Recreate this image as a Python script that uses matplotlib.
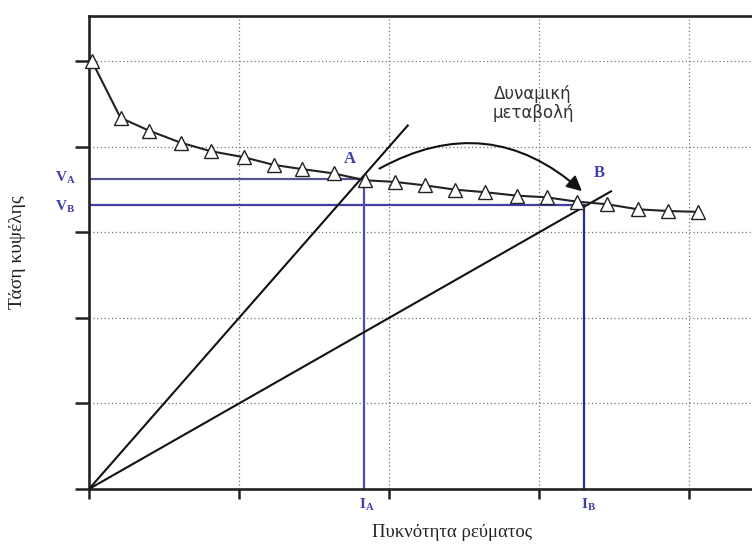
import matplotlib
matplotlib.use("Agg")
import matplotlib.pyplot as plt
from matplotlib.patches import FancyArrowPatch

plt.rcParams["mathtext.fontset"] = "custom"
plt.rcParams["mathtext.bf"] = "Liberation Serif:bold"
plt.rcParams["mathtext.rm"] = "Liberation Serif"

# Data
curve_x = [0.02, 0.21, 0.40, 0.61, 0.81, 1.03, 1.23, 1.42, 1.63, 1.84, 2.04,
           2.24, 2.44, 2.64, 2.85, 3.05, 3.25, 3.45, 3.66, 3.86, 4.06]
curve_y = [5.00, 4.34, 4.19, 4.05, 3.95, 3.88, 3.79, 3.74, 3.69, 3.61, 3.59,
           3.55, 3.50, 3.47, 3.43, 3.41, 3.36, 3.33, 3.27, 3.25, 3.24]
load_a_x = [0.0, 2.125]
load_a_y = [0.0, 4.25]
load_b_x = [0.0, 3.48]
load_b_y = [0.0, 3.48]
I_A, V_A = 1.83, 3.62
I_B, V_B = 3.30, 3.32
arrow_start = (1.92, 3.73)
arrow_end = (3.30, 3.46)
xticks = [0, 1, 2, 3, 4]
yticks = [0, 1, 2, 3, 4, 5]

serif = ["Liberation Serif", "DejaVu Serif"]
blue = "#3f3fa6"

fig = plt.figure(figsize=(7.52, 5.47), dpi=100)
ax = fig.add_axes([89/752, 58/547, (752-89)/752, 473/547])
ax.set_xlim(0, 4.42)
ax.set_ylim(0, 5.53)

ax.spines["right"].set_visible(False)
for s in ["left", "bottom", "top"]:
    ax.spines[s].set_linewidth(1.9)
    ax.spines[s].set_color("#222222")

ax.set_xticks(xticks)
ax.set_yticks(yticks)
ax.set_xticklabels([])
ax.set_yticklabels([])
ax.tick_params(axis="y", direction="out", length=10, width=1.8, color="#222222")
ax.tick_params(axis="x", direction="out", length=7, width=1.8, color="#222222")
ax.grid(True, linestyle=(0, (1, 2)), color="#777777", linewidth=0.9)
ax.set_axisbelow(True)

# Reference lines
ax.plot([0, I_A], [V_A, V_A], color="#55559c", lw=1.6, zorder=2)
ax.plot([0, I_B], [V_B, V_B], color=blue, lw=1.6, zorder=2)
ax.plot([I_A, I_A], [0, V_A], color="#4b4bb0", lw=1.6, zorder=2)
ax.plot([I_B, I_B], [0, V_B], color="#2a2a9a", lw=1.6, zorder=2)

# Load lines
ax.plot(load_a_x, load_a_y, color="#111111", lw=1.5, zorder=3)
ax.plot(load_b_x, load_b_y, color="#111111", lw=1.5, zorder=3)

# Polarisation curve
ax.plot(curve_x, curve_y, color="#222222", lw=1.5, marker="^", ms=9.5,
        mfc="white", mec="#222222", mew=1.0, zorder=4, clip_on=False)

# Curved arrow
arr = FancyArrowPatch(arrow_start, arrow_end, connectionstyle="arc3,rad=-0.36",
                      arrowstyle="-|>,head_length=9,head_width=4.5",
                      color="#111111", lw=1.5, zorder=5)
ax.add_patch(arr)

ax.text(2.96, 4.51, "Δυναμική\nμεταβολή", ha="center", va="center",
        fontsize=12, family=["DejaVu Sans"], color="#333333", linespacing=1.1)

ax.text(1.74, 3.86, "A", color=blue, fontsize=12, fontweight="bold",
        family=serif, ha="center", va="center")
ax.text(3.40, 3.70, "B", color=blue, fontsize=12, fontweight="bold",
        family=serif, ha="center", va="center")

# V_A, V_B, I_A, I_B labels
ax.text(-0.09, V_A + 0.02, r"V$_\mathbf{A}$", color=blue, fontsize=11,
        fontweight="bold", family=serif, ha="right", va="center")
ax.text(-0.09, V_B - 0.02, r"V$_\mathbf{B}$", color=blue, fontsize=11,
        fontweight="bold", family=serif, ha="right", va="center")
ax.text(I_A + 0.02, -0.08, r"I$_\mathbf{A}$", color=blue, fontsize=11,
        fontweight="bold", family=serif, ha="center", va="top")
ax.text(I_B + 0.03, -0.08, r"I$_\mathbf{B}$", color=blue, fontsize=11,
        fontweight="bold", family=serif, ha="center", va="top")

ax.set_ylabel("Τάση κυψέλης", family=serif, fontsize=14, color="#222222")
ax.yaxis.set_label_coords(-0.095, 0.5)
ax.set_xlabel("Πυκνότητα ρεύματος", family=serif, fontsize=13.5, color="#222222")
ax.xaxis.set_label_coords((452-89)/663, -0.075)

fig.savefig("out.png", dpi=100)
